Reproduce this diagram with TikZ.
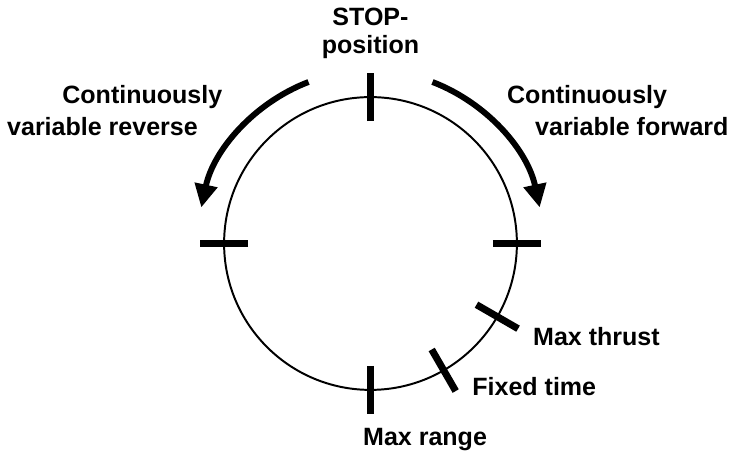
\documentclass[tikz,border=0pt]{standalone}
\usepackage{fontspec}
\setmainfont{Liberation Sans}
\usetikzlibrary{arrows.meta}

\begin{document}
\begin{tikzpicture}[
    notch/.style={line width=5pt},
    turn/.style={line width=4.2pt,-{Triangle[length=0.58cm,width=0.55cm]}},
    lbl/.style={inner sep=0pt,font=\fontsize{17.8}{20}\selectfont\bfseries}]
    \useasboundingbox (-9.2625,-5.2375) rectangle (9.1125,6.0875);
    \draw[line width=1.4pt] (0,0) circle (3.66);
    \foreach \a in {90,180,0,-30,-60,-90}
        \draw[notch] (\a:3.06) -- (\a:4.26);
    \draw[turn] (111:4.325) arc[start angle=111,end angle=168,radius=4.325];
    \draw[turn] (69:4.325) arc[start angle=69,end angle=12,radius=4.325];
    \node[lbl,anchor=base] (stop) at (0,5.44) {STOP-};
    \node[lbl,anchor=base] (pos) at (0,4.74) {position};
    \node[lbl,anchor=base west] (rev1) at (-7.71,3.51) {Continuously};
    \node[lbl,anchor=base west] (rev2) at (-9.09,2.69) {variable reverse};
    \node[lbl,anchor=base west] (fwd1) at (3.41,3.51) {Continuously};
    \node[lbl,anchor=base west] (fwd2) at (4.11,2.69) {variable forward};
    \node[lbl,anchor=base west] (thrust) at (4.06,-2.54) {Max thrust};
    \node[lbl,anchor=base west] (fixed) at (2.54,-3.79) {Fixed time};
    \node[lbl,anchor=base west] (range) at (-0.19,-5.06) {Max range};
\end{tikzpicture}
\end{document}
